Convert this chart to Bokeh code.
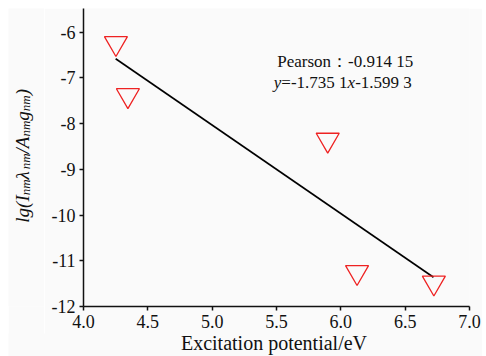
import math
from bokeh.plotting import figure
from bokeh.layouts import row, column
from bokeh.models import Range1d, FixedTicker, Label, ColumnDataSource
from bokeh.embed import file_html
from bokeh.resources import INLINE

# ---- data ----
excitation = [4.252, 4.345, 5.898, 6.126, 6.723]
lg_ratio = [-6.24, -7.38, -8.355, -11.25, -11.48]
fit_x = [4.25, 6.72]
fit_y = [-6.58, -11.36]
x_ticks = [4.0, 4.5, 5.0, 5.5, 6.0, 6.5, 7.0]
x_tick_labels = ["4.0", "4.5", "5.0", "5.5", "6.0", "6.5", "7.0"]
y_ticks = [-12, -11, -10, -9, -8, -7, -6]
y_tick_labels = ["-12", "-11", "-10", "-9", "-8", "-7", "-6"]
x_title = "Excitation potential/eV"
pearson_text = "Pearson：-0.914 15"
equation_parts = [("y", "italic"), ("=-1.735 1", "normal"), ("x", "italic"), ("-1.599 3", "normal")]
y_title_parts = [("lg(", False), ("I", False), ("nm", True), ("λ", False), ("nm", True),
                 ("/A", False), ("nm", True), ("g", False), ("nm", True), (")", False)]

FONT = "Liberation Serif"
BG = "#fafafa"
INK = "#111111"


def blank(width, height, **kw):
    f = figure(width=width, height=height, output_backend="svg", toolbar_location=None,
               title=None, x_axis_type=None, y_axis_type=None,
               min_border_left=0, min_border_right=0, min_border_top=0, min_border_bottom=0, **kw)
    f.background_fill_color = BG
    f.border_fill_color = BG
    f.outline_line_color = None
    f.grid.visible = False
    return f


# ---- main plot ----
p = figure(width=438, height=332, output_backend="svg", toolbar_location=None, title=None,
           x_range=Range1d(4.0, 7.0), y_range=Range1d(-12.0, -5.48),
           min_border_left=39, min_border_right=13, min_border_top=0, min_border_bottom=34)
p.background_fill_color = BG
p.border_fill_color = BG
p.outline_line_color = None
p.grid.visible = False

for ax in (p.xaxis[0], p.yaxis[0]):
    ax.axis_line_color = INK
    ax.axis_line_width = 1.5
    ax.major_tick_line_color = INK
    ax.major_tick_line_width = 1.5
    ax.major_tick_out = 4
    ax.major_tick_in = 0
    ax.minor_tick_line_color = None
    ax.major_label_text_font = FONT
    ax.major_label_text_font_size = "18px"
    ax.major_label_text_color = INK
    ax.axis_label = None

p.xaxis[0].ticker = FixedTicker(ticks=x_ticks)
p.xaxis[0].major_label_overrides = {t: l for t, l in zip(x_ticks, x_tick_labels)}
p.xaxis[0].major_label_standoff = 4
p.yaxis[0].ticker = FixedTicker(ticks=y_ticks)
p.yaxis[0].major_label_overrides = {t: l for t, l in zip(y_ticks, y_tick_labels)}
p.yaxis[0].major_label_standoff = 4

src = ColumnDataSource(dict(x=excitation, y=lg_ratio))
p.line(fit_x, fit_y, line_color="black", line_width=1.6)
p.scatter("x", "y", source=src, marker="inverted_triangle", size=23,
          fill_color=None, line_color="#ee2222", line_width=1.3)

p.add_layout(Label(x=193.7, y=245, x_units="screen", y_units="screen", text=pearson_text,
                   text_font=FONT, text_font_size="17px", text_color=INK,
                   text_align="left", text_baseline="alphabetic"))
eq_w = {"y": 0.444, "x": 0.444, "=": 0.564, "-": 0.333, ".": 0.25, " ": 0.25}
xpos = 190.3
for txt, style in equation_parts:
    p.add_layout(Label(x=xpos, y=224.5, x_units="screen", y_units="screen", text=txt,
                       text_font=FONT, text_font_style=style, text_font_size="17px",
                       text_color=INK, text_align="left", text_baseline="alphabetic"))
    xpos += sum(eq_w.get(c, 0.5) for c in txt) * 17

# ---- narrow panel holding the y-axis title (with subscripts) ----
t = blank(36, 332)
width_tab = {"l": 0.278, "g": 0.5, "(": 0.333, ")": 0.333, "I": 0.333, "n": 0.5,
             "m": 0.722, "λ": 0.53, "/": 0.278, "A": 0.611}
main_fs, sub_fs = 19, 13
pos = 83.8
for txt, is_sub in y_title_parts:
    fs = sub_fs if is_sub else main_fs
    t.add_layout(Label(x=17 if is_sub else 14, y=pos, x_units="screen", y_units="screen",
                       text=txt, angle=math.pi / 2, text_font=FONT,
                       text_font_style="italic", text_font_size=f"{fs}px", text_color=INK,
                       text_align="left", text_baseline="alphabetic"))
    pos += sum(width_tab[c] for c in txt) * fs

# ---- strip holding the x-axis title (pulled up over the empty bottom border) ----
b = blank(474, 23, margin=(-7, 0, 0, 0))
b.add_layout(Label(x=265.5, y=13.5, x_units="screen", y_units="screen", text=x_title,
                   text_font=FONT, text_font_size="20px", text_color=INK,
                   text_align="center", text_baseline="alphabetic"))

layout = column(row(t, p, spacing=0), b, spacing=0, margin=(8, 0, 0, 8))

open("out.html", "w").write(file_html(layout, INLINE))
